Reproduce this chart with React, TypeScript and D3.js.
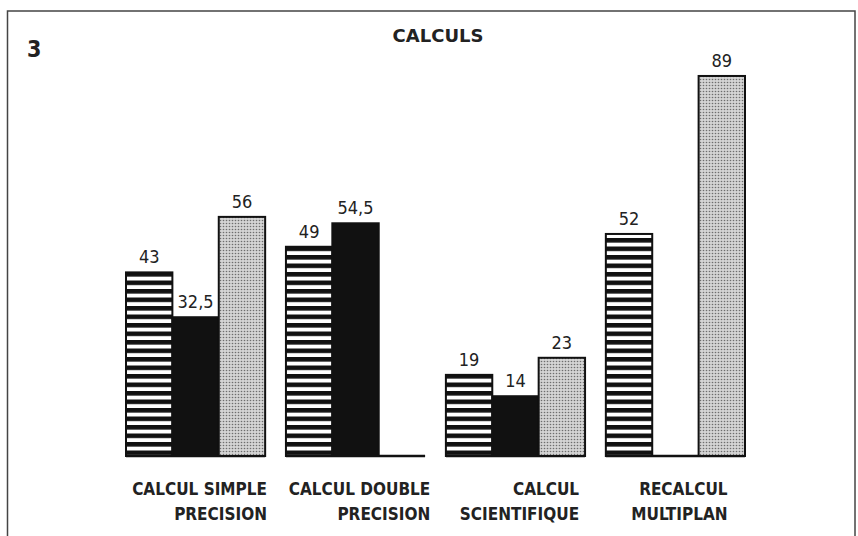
import React, { useEffect, useRef } from "react";
import * as d3 from "d3";

// categories and their two-line labels
const categories = ["simple", "double", "scientifique", "multiplan"];
const categoryLines = [
  ["CALCUL SIMPLE", "PRECISION"],
  ["CALCUL DOUBLE", "PRECISION"],
  ["CALCUL", "SCIENTIFIQUE"],
  ["RECALCUL", "MULTIPLAN"],
];

// three series (missing value = no bar)
const seriesKeys = ["rayé", "noir", "pointillé"];
const stripedValues: (number | null)[] = [43, 49, 19, 52];
const blackValues: (number | null)[] = [32.5, 54.5, 14, null];
const dottedValues: (number | null)[] = [56, null, 23, 89];

const title = "CALCULS";
const figureNumber = "3";

const W = 858;
const H = 536;
const FONT = "'DejaVu Sans Condensed', 'DejaVu Sans', sans-serif";

const App = () => {
  const canvas = useRef<SVGSVGElement>(null);

  useEffect(() => {
    const svg = d3.select(canvas.current);
    svg.selectAll("*").remove();

    const x0 = d3.scaleBand().domain(categories).range([126, 745]).paddingInner(0.13);
    const x1 = d3.scaleBand().domain(seriesKeys).range([0, x0.bandwidth()]);
    const y = d3.scaleLinear().domain([0, 100]).range([456, 29]);

    const defs = svg.append("defs");
    const stripes = defs
      .append("pattern")
      .attr("id", "stripes")
      .attr("patternUnits", "userSpaceOnUse")
      .attr("width", 8)
      .attr("height", 8.5)
      .attr("y", 272);
    stripes.append("rect").attr("width", 8).attr("height", 8.5).attr("fill", "#111");
    stripes.append("rect").attr("y", 4.6).attr("width", 8).attr("height", 3.9).attr("fill", "#fff");

    const dots = defs
      .append("pattern")
      .attr("id", "dots")
      .attr("patternUnits", "userSpaceOnUse")
      .attr("width", 3)
      .attr("height", 3);
    dots.append("rect").attr("width", 3).attr("height", 3).attr("fill", "#d4d4d4");
    dots.append("circle").attr("cx", 1.5).attr("cy", 1.5).attr("r", 0.8).attr("fill", "#6e6e6e");

    // frame
    svg
      .append("rect")
      .attr("x", 7.5)
      .attr("y", 11)
      .attr("width", 847.5)
      .attr("height", 540)
      .attr("fill", "none")
      .attr("stroke", "#444")
      .attr("stroke-width", 1.5);

    svg
      .append("text")
      .text(figureNumber)
      .attr("x", 27)
      .attr("y", 57)
      .attr("font-family", FONT)
      .attr("font-weight", "bold")
      .attr("font-size", 23)
      .attr("fill", "#222");

    svg
      .append("text")
      .text(title)
      .attr("x", 438)
      .attr("y", 42)
      .attr("text-anchor", "middle")
      .attr("font-family", "'DejaVu Sans', sans-serif")
      .attr("font-weight", "bold")
      .attr("font-size", 18)
      .attr("fill", "#222");

    const series = [
      { key: seriesKeys[0], values: stripedValues, fill: "url(#stripes)" },
      { key: seriesKeys[1], values: blackValues, fill: "#111" },
      { key: seriesKeys[2], values: dottedValues, fill: "url(#dots)" },
    ];

    const groups = svg
      .selectAll("g.group")
      .data(categories)
      .enter()
      .append("g")
      .attr("class", "group")
      .attr("transform", (d) => `translate(${x0(d)},0)`);

    series.forEach((s) => {
      const items = categories
        .map((c, i) => ({ c, v: s.values[i] }))
        .filter((d) => d.v !== null) as { c: string; v: number }[];

      svg
        .selectAll(`rect.bar-${s.key}`)
        .data(items)
        .enter()
        .append("rect")
        .attr("x", (d) => (x0(d.c) as number) + (x1(s.key) as number))
        .attr("y", (d) => y(d.v))
        .attr("width", x1.bandwidth())
        .attr("height", (d) => y(0) - y(d.v))
        .attr("fill", s.fill)
        .attr("stroke", "#111")
        .attr("stroke-width", 2);

      svg
        .selectAll(`text.val-${s.key}`)
        .data(items)
        .enter()
        .append("text")
        .text((d) => String(d.v).replace(".", ","))
        .attr("x", (d) => (x0(d.c) as number) + (x1(s.key) as number) + x1.bandwidth() / 2)
        .attr("y", (d) => y(d.v) - 9)
        .attr("text-anchor", "middle")
        .attr("font-family", FONT)
        .attr("font-size", 18)
        .attr("fill", "#222");
    });

    // baseline under each group
    groups
      .append("line")
      .attr("x1", 0)
      .attr("x2", x0.bandwidth())
      .attr("y1", y(0))
      .attr("y2", y(0))
      .attr("stroke", "#111")
      .attr("stroke-width", 2.5);

    // category labels: lines right-aligned, block centred on the group
    groups.each(function (c, i) {
      const g = d3.select(this);
      const label = g.append("text").attr("font-family", FONT).attr("font-weight", "bold").attr("font-size", 17).attr("fill", "#222").attr("text-anchor", "end");
      const spans = categoryLines[i].map((line, j) =>
        label.append("tspan").text(line).attr("y", 495 + j * 25)
      );
      const maxW = d3.max(spans, (s) => (s.node() as SVGTSpanElement).getComputedTextLength()) || 0;
      spans.forEach((s) => s.attr("x", x0.bandwidth() / 2 + 4 + maxW / 2));
    });
  }, []);

  return (
    <svg
      ref={canvas}
      width={W}
      height={H}
      style={{ position: "absolute", left: 0, top: 0, background: "#fff" }}
    ></svg>
  );
};

export default App;
